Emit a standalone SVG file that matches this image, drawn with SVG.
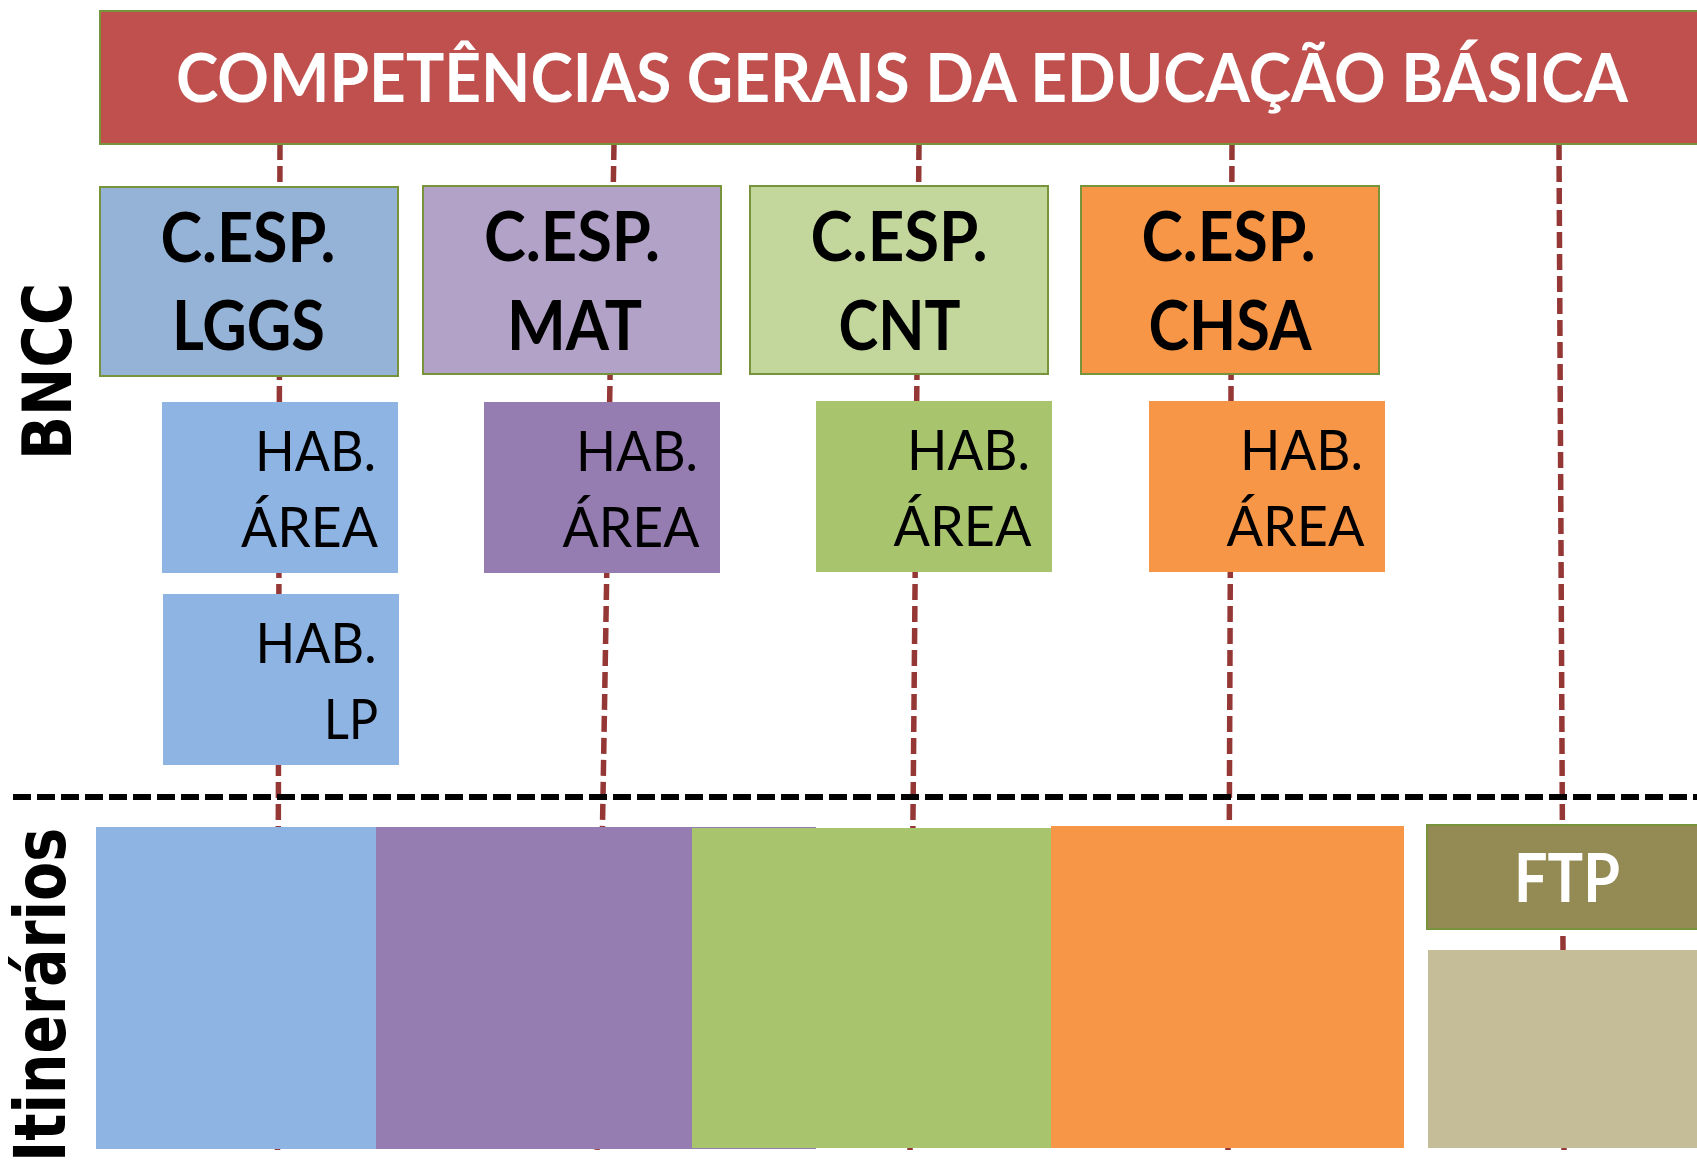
<svg xmlns="http://www.w3.org/2000/svg" width="1697" height="1174" viewBox="0 0 1697 1174">
<style>
.bx{stroke:#77933C;stroke-width:2}
.t-title{font-family:Lato,"Open Sans","Liberation Sans",sans-serif;font-weight:700;font-size:66px;fill:#fff}
.t-cesp{font-family:Lato,"Open Sans","Liberation Sans",sans-serif;font-weight:700;font-size:68px;fill:#000;text-anchor:middle}
.t-hab{font-family:Lato,"Open Sans","Liberation Sans",sans-serif;font-weight:400;font-size:57px;fill:#000;text-anchor:end}
.t-side{font-family:"DejaVu Sans",Verdana,sans-serif;font-weight:700;fill:#000}
.conn{stroke:#953735;stroke-width:5.5;stroke-dasharray:16 6;fill:none}
.sep{stroke:#000;stroke-width:6;stroke-dasharray:18 6;fill:none}
</style>
<rect width="1697" height="1174" fill="#fff"/>
<g id="connectors">
<path class="conn" d="M280 144 L277.5 1151"/>
<path class="conn" d="M614 144 L597 1151"/>
<path class="conn" d="M919 144 L910 1151"/>
<path class="conn" d="M1232 144 L1228 1151"/>
<path class="conn" d="M1559 144 L1564 1151"/>
</g>
<g id="separator">
<path class="sep" d="M13 797 L1697 797"/>
</g>
<g id="title">
<rect class="bx" x="100" y="11" width="1600" height="133" fill="#C0504D"/>
<text class="t-title" x="176" y="102" textLength="1452" lengthAdjust="spacingAndGlyphs">COMPETÊNCIAS GERAIS DA EDUCAÇÃO BÁSICA</text>
</g>
<g id="cesp-lggs">
<rect class="bx" x="100" y="187" width="298" height="189" fill="#95B3D7"/>
<text class="t-cesp" x="248" y="262" textLength="175" lengthAdjust="spacingAndGlyphs">C.ESP.</text>
<text class="t-cesp" x="248.5" y="350" textLength="153" lengthAdjust="spacingAndGlyphs">LGGS</text>
</g>
<g id="cesp-mat">
<rect class="bx" x="423" y="186" width="298" height="188" fill="#B2A2C7"/>
<text class="t-cesp" x="572" y="261" textLength="176" lengthAdjust="spacingAndGlyphs">C.ESP.</text>
<text class="t-cesp" x="574.5" y="350" textLength="135" lengthAdjust="spacingAndGlyphs">MAT</text>
</g>
<g id="cesp-cnt">
<rect class="bx" x="750" y="186" width="298" height="188" fill="#C3D69B"/>
<text class="t-cesp" x="899" y="261" textLength="177" lengthAdjust="spacingAndGlyphs">C.ESP.</text>
<text class="t-cesp" x="899.5" y="350" textLength="122" lengthAdjust="spacingAndGlyphs">CNT</text>
</g>
<g id="cesp-chsa">
<rect class="bx" x="1081" y="186" width="298" height="188" fill="#F79646"/>
<text class="t-cesp" x="1228.5" y="261" textLength="174" lengthAdjust="spacingAndGlyphs">C.ESP.</text>
<text class="t-cesp" x="1230" y="350" textLength="163" lengthAdjust="spacingAndGlyphs">CHSA</text>
</g>
<g id="hab-lggs">
<rect x="162" y="402" width="236" height="171" fill="#8EB4E3"/>
<text class="t-hab" x="376" y="471" textLength="121" lengthAdjust="spacingAndGlyphs">HAB.</text>
<text class="t-hab" x="378" y="547" textLength="137" lengthAdjust="spacingAndGlyphs">ÁREA</text>
</g>
<g id="hab-lp">
<rect x="163" y="594" width="236" height="171" fill="#8EB4E3"/>
<text class="t-hab" x="376.5" y="663" textLength="121" lengthAdjust="spacingAndGlyphs">HAB.</text>
<text class="t-hab" x="378" y="739" textLength="54" lengthAdjust="spacingAndGlyphs">LP</text>
</g>
<g id="hab-mat">
<rect x="484" y="402" width="236" height="171" fill="#957CB1"/>
<text class="t-hab" x="698" y="471" textLength="122" lengthAdjust="spacingAndGlyphs">HAB.</text>
<text class="t-hab" x="699.5" y="547" textLength="137" lengthAdjust="spacingAndGlyphs">ÁREA</text>
</g>
<g id="hab-cnt">
<rect x="816" y="401" width="236" height="171" fill="#A8C56E"/>
<text class="t-hab" x="1030" y="469.5" textLength="123" lengthAdjust="spacingAndGlyphs">HAB.</text>
<text class="t-hab" x="1031.5" y="546" textLength="138" lengthAdjust="spacingAndGlyphs">ÁREA</text>
</g>
<g id="hab-chsa">
<rect x="1149" y="401" width="236" height="171" fill="#F79646"/>
<text class="t-hab" x="1363" y="469.5" textLength="123" lengthAdjust="spacingAndGlyphs">HAB.</text>
<text class="t-hab" x="1364.5" y="546" textLength="138" lengthAdjust="spacingAndGlyphs">ÁREA</text>
</g>
<g id="label-bncc">
<text class="t-side" transform="translate(70.5 460) rotate(-90)" font-size="67" textLength="177" lengthAdjust="spacingAndGlyphs">BNCC</text>
</g>
<g id="label-itinerarios">
<text class="t-side" transform="translate(65 1162) rotate(-90)" font-size="72" textLength="334" lengthAdjust="spacingAndGlyphs">Itinerários</text>
</g>
<g id="it-lggs">
<rect x="96" y="827" width="280" height="322" fill="#8EB4E3"/>
</g>
<g id="it-mat">
<rect x="376" y="827" width="440" height="322" fill="#957CB1"/>
</g>
<g id="it-cnt">
<rect x="692" y="828" width="359" height="320" fill="#A8C56E"/>
</g>
<g id="it-chsa">
<rect x="1051" y="826" width="353" height="322" fill="#F79646"/>
</g>
<g id="ftp">
<rect class="bx" x="1427" y="825" width="280" height="104" fill="#948A54"/>
<text x="1567" y="902" font-family="Lato,'Open Sans','Liberation Sans',sans-serif" font-weight="700" font-size="66" fill="#fff" text-anchor="middle" textLength="106" lengthAdjust="spacingAndGlyphs">FTP</text>
</g>
<g id="ftp-block">
<rect x="1428" y="950" width="280" height="198" fill="#C4BD97"/>
</g>
</svg>
